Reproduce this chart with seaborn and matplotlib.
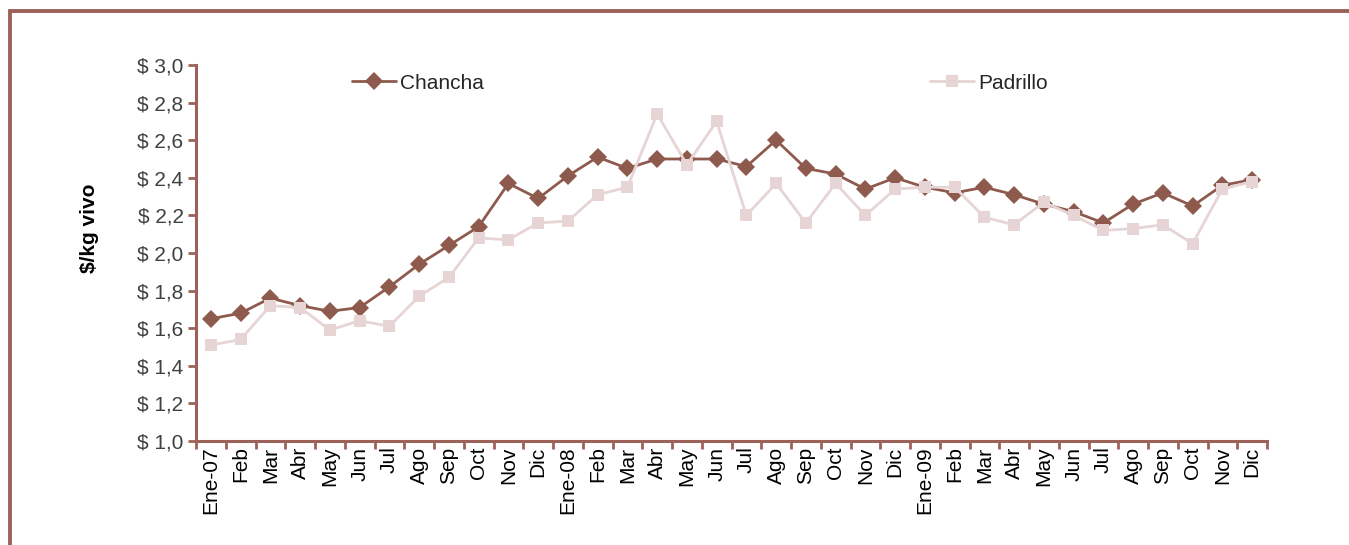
import seaborn as sns
import pandas as pd
import matplotlib.pyplot as plt
import matplotlib.patches as mpatches
import matplotlib.ticker as tkr

meses = ["Ene-07", "Feb", "Mar", "Abr", "May", "Jun", "Jul", "Ago", "Sep", "Oct", "Nov", "Dic",
         "Ene-08", "Feb", "Mar", "Abr", "May", "Jun", "Jul", "Ago", "Sep", "Oct", "Nov", "Dic",
         "Ene-09", "Feb", "Mar", "Abr", "May", "Jun", "Jul", "Ago", "Sep", "Oct", "Nov", "Dic"]

chancha = [1.65, 1.68, 1.76, 1.72, 1.69, 1.71, 1.82, 1.94, 2.04, 2.14, 2.37, 2.29,
           2.41, 2.51, 2.45, 2.50, 2.50, 2.50, 2.46, 2.60, 2.45, 2.42, 2.34, 2.40,
           2.35, 2.32, 2.35, 2.31, 2.26, 2.22, 2.16, 2.26, 2.32, 2.25, 2.36, 2.39]

padrillo = [1.51, 1.54, 1.72, 1.71, 1.59, 1.64, 1.61, 1.77, 1.87, 2.08, 2.07, 2.16,
            2.17, 2.31, 2.35, 2.74, 2.47, 2.70, 2.20, 2.37, 2.16, 2.37, 2.20, 2.34,
            2.35, 2.35, 2.19, 2.15, 2.27, 2.20, 2.12, 2.13, 2.15, 2.05, 2.34, 2.38]

c_chancha = "#8E5A4D"
c_padrillo = "#E6D5D4"
c_frame = "#9C6259"

df = pd.DataFrame({
    "idx": list(range(len(meses))) * 2,
    "precio": chancha + padrillo,
    "serie": ["Chancha"] * len(chancha) + ["Padrillo"] * len(padrillo),
})

sns.set_theme(style="white")
plt.rcParams["font.family"] = ["Liberation Sans", "DejaVu Sans"]

fig = plt.figure(figsize=(13.49, 5.45), dpi=100)
ax = fig.add_axes([196 / 1349, 1 - 441 / 545, 1071 / 1349, 376 / 545])

sns.lineplot(data=df, x="idx", y="precio", hue="serie", style="serie",
             hue_order=["Chancha", "Padrillo"],
             palette={"Chancha": c_chancha, "Padrillo": c_padrillo},
             markers={"Chancha": "D", "Padrillo": "s"}, dashes=False,
             markersize=9, markeredgewidth=0, linewidth=2.0, ax=ax, legend=False)

ax.set_xlim(-0.5, len(meses) - 0.5)
ax.set_ylim(1.0, 3.0)
ax.yaxis.set_major_locator(tkr.MultipleLocator(0.2))
ax.yaxis.set_major_formatter(tkr.FuncFormatter(lambda v, p: "$ " + f"{v:.1f}".replace(".", ",")))

# ticks on month boundaries, labels in the middle
ax.set_xticks([i - 0.5 for i in range(len(meses) + 1)])
ax.set_xticklabels([])
ax.set_xticks(range(len(meses)), minor=True)
ax.set_xticklabels(meses, minor=True, rotation=90, fontsize=15, color="black")
ax.tick_params(axis="x", which="major", direction="out", length=6, width=2, color=c_frame, bottom=True)
ax.tick_params(axis="x", which="minor", length=0, pad=4)
ax.tick_params(axis="y", direction="out", length=6, width=2, color=c_frame, left=True,
               labelsize=15, labelcolor="#404040", pad=3)

for s in ["top", "right"]:
    ax.spines[s].set_visible(False)
for s in ["left", "bottom"]:
    ax.spines[s].set_color(c_frame)
    ax.spines[s].set_linewidth(2.2)

ax.set_xlabel("")
ax.set_ylabel("$/kg vivo", fontsize=15, fontweight="bold", color="black")
ax.yaxis.set_label_coords(-0.091, 0.566)

# two separate legend entries
h_ch = plt.Line2D([], [], color=c_chancha, marker="D", markersize=9, markeredgewidth=0, linewidth=2.0)
h_pa = plt.Line2D([], [], color=c_padrillo, marker="s", markersize=8, markeredgewidth=0, linewidth=2.0)
leg1 = ax.legend([h_ch], ["Chancha"], loc="center left", bbox_to_anchor=(352 / 1349, 1 - 83 / 545),
                 bbox_transform=fig.transFigure, frameon=False, fontsize=15, borderpad=0,
                 borderaxespad=0, handlelength=2.1, handletextpad=0.2)
ax.add_artist(leg1)
ax.legend([h_pa], ["Padrillo"], loc="center left", bbox_to_anchor=(930 / 1349, 1 - 83 / 545),
          bbox_transform=fig.transFigure, frameon=False, fontsize=15, borderpad=0,
          borderaxespad=0, handlelength=2.1, handletextpad=0.2)

# outer frame (cut off at right and bottom)
fig.patches.append(mpatches.Rectangle((10 / 1349, -0.2), 1.2, 1.2 - 11 / 545, fill=False,
                                      edgecolor=c_frame, linewidth=2.8,
                                      transform=fig.transFigure, figure=fig))

fig.savefig("out.png", dpi=100)
